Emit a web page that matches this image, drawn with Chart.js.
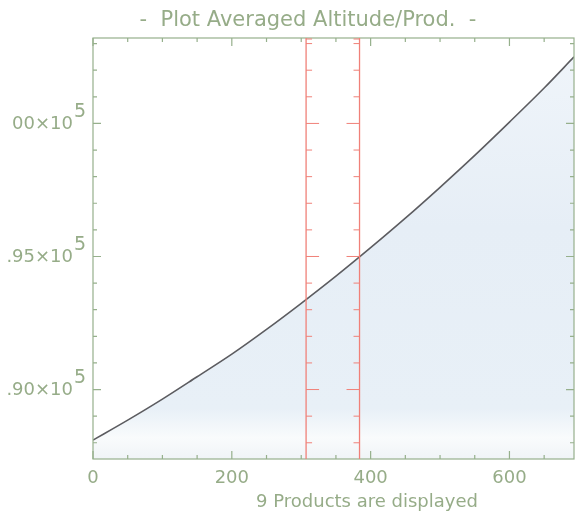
<!DOCTYPE html>
<html>
<head>
<meta charset="utf-8">
<script src="https://cdn.jsdelivr.net/npm/chart.js@4.4.0/dist/chart.umd.min.js"></script>
<style>
  html, body { margin: 0; padding: 0; background: #ffffff; }
  #wrap { width: 577px; height: 517px; }
</style>
</head>
<body>
<div id="wrap"><canvas id="altChart" width="577" height="517"></canvas></div>
<script>
// data
const productIndex = [0, 50, 100, 150, 200, 250, 300, 350, 400, 450, 500, 550, 600, 650, 693];
const altitude = [88100, 88850, 89640, 90480, 91330, 92260, 93240, 94260, 95330, 96440, 97600, 98800, 100050, 101330, 102500];
const xTickValues = [0, 50, 100, 150, 200, 250, 300, 350, 400, 450, 500, 550, 600, 650];
const xLabelValues = [0, 200, 400, 600];
const yTickValues = [88000, 89000, 90000, 91000, 92000, 93000, 94000, 95000, 96000, 97000, 98000, 99000, 100000, 101000, 102000, 103000];
const yLabelValues = [90000, 95000, 100000];
const yLabelText = ['.90×10', '.95×10', '00×10'];
const markerLines = [307, 384];

const axisColor = 'rgb(150,176,140)';
const textColor = 'rgb(150,172,136)';
const redColor = 'rgb(240,128,120)';
const fontFamily = '"DejaVu Sans", sans-serif';

// frame, inward ticks, red marker lines and texts
const idlAxes = {
    id: 'idlAxes',
    afterDatasetsDraw(chart) {
        const ctx = chart.ctx;
        const a = chart.chartArea;
        const xs = chart.scales.x;
        const ys = chart.scales.y;
        ctx.save();

        // frame
        ctx.strokeStyle = axisColor;
        ctx.lineWidth = 1.2;
        ctx.strokeRect(a.left, a.top, a.right - a.left, a.bottom - a.top);

        // x ticks bottom + top
        xTickValues.forEach(v => {
            const px = xs.getPixelForValue(v);
            const len = (v % 200 === 0) ? 8 : 4;
            ctx.beginPath();
            ctx.moveTo(px, a.bottom); ctx.lineTo(px, a.bottom - len);
            ctx.moveTo(px, a.top); ctx.lineTo(px, a.top + len);
            ctx.stroke();
        });

        // y ticks left + right
        yTickValues.forEach(v => {
            const py = ys.getPixelForValue(v);
            if (py < a.top || py > a.bottom) return;
            const len = (v % 5000 === 0) ? 8 : 4;
            ctx.beginPath();
            ctx.moveTo(a.left, py); ctx.lineTo(a.left + len, py);
            ctx.moveTo(a.right, py); ctx.lineTo(a.right - len, py);
            ctx.stroke();
        });

        // red marker lines with ticks
        ctx.strokeStyle = redColor;
        markerLines.forEach((m, i) => {
            const px = xs.getPixelForValue(m);
            const dir = i === 0 ? 1 : -1;
            ctx.lineWidth = 1.3;
            ctx.beginPath();
            ctx.moveTo(px, a.top); ctx.lineTo(px, a.bottom);
            ctx.stroke();
            ctx.lineWidth = 1;
            yTickValues.forEach(v => {
                const py = ys.getPixelForValue(v);
                if (py < a.top || py > a.bottom) return;
                const len = (v % 5000 === 0) ? 13 : 6;
                ctx.beginPath();
                ctx.moveTo(px, py); ctx.lineTo(px + dir * len, py);
                ctx.stroke();
            });
            ctx.beginPath();
            ctx.moveTo(px, a.top + 1); ctx.lineTo(px + dir * 6, a.top + 1);
            ctx.stroke();
        });

        // y labels (left part is cut off in the original)
        ctx.fillStyle = textColor;
        ctx.textBaseline = 'middle';
        yLabelValues.forEach((v, i) => {
            const py = ys.getPixelForValue(v);
            ctx.font = '18px ' + fontFamily;
            ctx.textAlign = 'right';
            ctx.fillText(yLabelText[i], 73, py + 1);
            ctx.textAlign = 'left';
            ctx.font = '19px ' + fontFamily;
            ctx.fillText('5', 74, py - 11);
        });

        // titles
        ctx.textAlign = 'center';
        ctx.font = '21px ' + fontFamily;
        ctx.fillText('-  Plot Averaged Altitude/Prod.  -', 308, 21);
        ctx.font = '18px ' + fontFamily;
        ctx.fillText('9 Products are displayed', 367, 502);
        ctx.restore();
    }
};

const ctx = document.getElementById('altChart').getContext('2d');
const altChart = new Chart(ctx, {
    type: 'line',
    data: {
        datasets: [{
            data: productIndex.map((x, i) => ({ x: x, y: altitude[i] })),
            borderColor: 'rgb(92,92,96)',
            borderWidth: 1.6,
            pointRadius: 0,
            cubicInterpolationMode: 'monotone',
            fill: 'start',
            backgroundColor: (c) => {
                const a = c.chart.chartArea;
                if (!a) return 'rgba(226,236,245,1)';
                const g = c.chart.ctx.createLinearGradient(0, a.top, 0, a.bottom);
                g.addColorStop(0, '#f0f5fa');
                g.addColorStop(0.45, '#e6eef6');
                g.addColorStop(0.88, '#e8f0f7');
                g.addColorStop(0.95, '#f9fbfc');
                g.addColorStop(1, '#f0f4f7');
                return g;
            }
        }]
    },
    options: {
        responsive: false,
        animation: false,
        layout: { padding: { left: 93, right: 3, top: 38, bottom: 0 } },
        plugins: { legend: { display: false }, tooltip: { enabled: false } },
        scales: {
            x: {
                type: 'linear',
                min: 0,
                max: 693,
                afterBuildTicks: (s) => { s.ticks = xTickValues.map(v => ({ value: v })); },
                afterFit: (s) => { s.height = 58; },
                grid: { display: false, drawTicks: false },
                border: { display: false },
                ticks: {
                    padding: 9,
                    maxRotation: 0,
                    autoSkip: false,
                    color: textColor,
                    font: { family: fontFamily, size: 18 },
                    callback: (v) => xLabelValues.includes(v) ? String(v) : ''
                }
            },
            y: {
                type: 'linear',
                display: false,
                min: 87390,
                max: 103210
            }
        }
    },
    plugins: [idlAxes]
});
</script>
</body>
</html>
